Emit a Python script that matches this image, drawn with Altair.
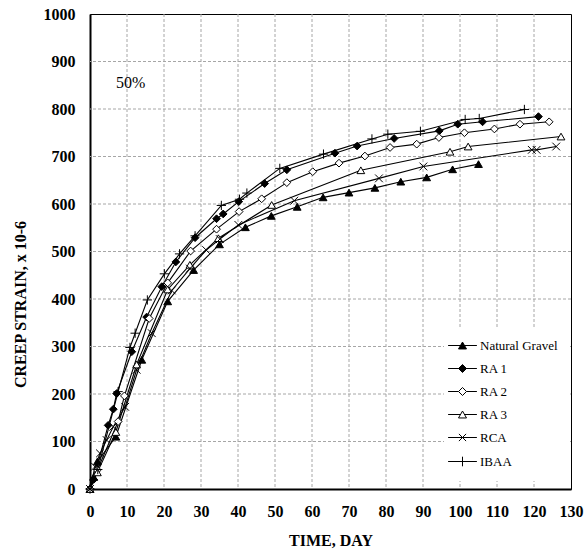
import altair as alt
import pandas as pd

series_names = ["Natural Gravel", "RA 1", "RA 2", "RA 3", "RCA", "IBAA"]

ng_day = [0, 1, 2, 7, 14, 21, 28, 35, 42, 49, 56, 63, 70, 77, 84, 91, 98, 105]
ng_strain = [0, 25, 58, 110, 272, 395, 461, 515, 551, 575, 594, 614, 624, 634, 647, 656, 673, 684]

ra1_day = [0, 1, 4.9, 6.3, 7.2, 11.3, 15.3, 19.4, 23.2, 28.4, 34.2, 36, 40.2, 47.2, 53.2, 66.2, 72.2, 82.2, 94.4, 99.4, 106.1, 121.2]
ra1_strain = [0, 20, 134, 168, 201, 289, 362, 426, 478, 529, 569, 579, 605, 643, 672, 707, 722, 738, 754, 768, 773, 784]

ra2_day = [0, 2, 7.6, 9.3, 16, 21, 27.2, 34.2, 40.3, 46.4, 53.2, 60.2, 67.3, 74.3, 81.1, 88.3, 94.3, 101.2, 109.3, 116.2, 124.1]
ra2_strain = [0, 40, 142, 196, 359, 434, 501, 547, 584, 611, 645, 668, 686, 701, 719, 726, 740, 750, 758, 768, 773]

ra3_day = [0, 2, 7, 12.6, 21, 27, 34.7, 49.1, 73.2, 97.3, 102.2, 127.3]
ra3_strain = [0, 35, 120, 262, 420, 472, 528, 598, 671, 710, 721, 742]

rca_day = [0, 1.35, 2.7, 4.5, 6.3, 9.5, 12.6, 16.7, 22.1, 27, 31.4, 35.1, 40.1, 55.2, 78.1, 90.1, 119.4, 120.7, 126]
rca_strain = [0, 47, 75, 103, 131, 173, 251, 328, 418, 464, 503, 526, 556, 607, 654, 679, 714, 714, 721]

ibaa_day = [0, 2.1, 7.6, 10.8, 12.2, 15.5, 20.1, 24.2, 28.4, 35.5, 40.4, 42.4, 51.3, 63.1, 76.2, 80.5, 89.3, 101.4, 105.2, 117.4]
ibaa_strain = [0, 41, 205, 298, 328, 398, 453, 495, 533, 597, 610, 623, 675, 705, 737, 747, 753, 778, 780, 799]

x_ticks = list(range(0, 131, 10))
y_ticks = list(range(0, 1001, 100))

note_day = [7]
note_strain = [855]
note_text = ["50%"]

all_days = [ng_day, ra1_day, ra2_day, ra3_day, rca_day, ibaa_day]
all_strain = [ng_strain, ra1_strain, ra2_strain, ra3_strain, rca_strain, ibaa_strain]

rows = []
for name, days, vals in zip(series_names, all_days, all_strain):
    for d, v in zip(days, vals):
        rows.append({"series": name, "day": d, "strain": v})
df = pd.DataFrame(rows)
note_df = pd.DataFrame({"day": note_day, "strain": note_strain, "label": note_text})
gx_df = pd.DataFrame({"day": x_ticks[1:-1]})
gy_df = pd.DataFrame({"strain": y_ticks[1:-1]})

marker_paths = ["triangle-up", "diamond", "diamond", "triangle-up",
                "M-1,-1L1,1M-1,1L1,-1", "M-1.2,0H1.2M0,-1.2V1.2"]
marker_fills = ["black", "black", "white", "white", "white", "white"]
legend_strokes = ["black"] * 6
legend_paths = [
    "M-3.6,0H3.6M0,-0.866L-1,0.866L1,0.866Z",
    "M-3.6,0H3.6M-1,0L0,-1L1,0L0,1Z",
    "M-3.6,0H-1M1,0H3.6M-1,0L0,-1L1,0L0,1Z",
    "M-3.6,0H-0.5M0.5,0H3.6M0,-0.866L-1,0.866L1,0.866Z",
    "M-3.6,0H3.6M-0.9,-0.9L0.9,0.9M-0.9,0.9L0.9,-0.9",
    "M-3.6,0H3.6M0,-1.2V1.2",
]

serif = "Liberation Serif"
grid_color = "#a6a6a6"

x_axis = alt.Axis(values=x_ticks, title="TIME, DAY", format="d",
                  labelOverlap=False, labelFlush=False, grid=False,
                  labelFont=serif, labelFontSize=16, labelFontWeight="bold",
                  titleY=51, titleBaseline="middle", labelPadding=14)
y_axis = alt.Axis(values=y_ticks, title="CREEP STRAIN, x 10-6",
                  format="d", labelOverlap=False, labelFlush=False, grid=False,
                  labelFont=serif, labelFontSize=16, labelFontWeight="bold",
                  titleX=-70, titleY=290, titleAlign="center", titleBaseline="middle",
                  labelPadding=15)
x_scale = alt.Scale(domain=[0, 130], nice=False)
y_scale = alt.Scale(domain=[0, 1000], nice=False)

x = alt.X("day:Q", scale=x_scale, axis=x_axis)
y = alt.Y("strain:Q", scale=y_scale, axis=y_axis)

grid_v = alt.Chart(gx_df).mark_rule(color=grid_color, strokeDash=[3, 2], strokeWidth=1).encode(
    x=alt.X("day:Q", scale=x_scale, axis=x_axis))
grid_h = alt.Chart(gy_df).mark_rule(color=grid_color, strokeDash=[3, 2], strokeWidth=1).encode(
    y=alt.Y("strain:Q", scale=y_scale, axis=y_axis))

lines = alt.Chart(df).mark_line(color="black", strokeWidth=1.1).encode(
    x=x, y=y, detail="series:N", order="day:Q")

points = alt.Chart(df).mark_point(stroke="black", strokeWidth=1, opacity=1, size=60).encode(
    x=x, y=y,
    shape=alt.Shape("series:N", scale=alt.Scale(domain=series_names, range=marker_paths), legend=None),
    fill=alt.Fill("series:N", scale=alt.Scale(domain=series_names, range=marker_fills), legend=None),
)

leg = alt.Legend(title=None, orient="none", legendX=354, legendY=313,
                 labelFont=serif, labelFontSize=13, labelColor="black",
                 symbolSize=64, symbolStrokeColor="black", symbolStrokeWidth=1,
                 symbolOpacity=1, rowPadding=9, labelOffset=11, padding=12,
                 fillColor="white")

legend_layer = alt.Chart(df).mark_point(opacity=0, size=64).encode(
    x=x, y=y,
    shape=alt.Shape("series:N", scale=alt.Scale(domain=series_names, range=legend_paths), legend=leg),
    fill=alt.Fill("series:N", scale=alt.Scale(domain=series_names, range=marker_fills), legend=leg),
    stroke=alt.Stroke("series:N", scale=alt.Scale(domain=series_names, range=legend_strokes), legend=leg),
)

note = alt.Chart(note_df).mark_text(align="left", baseline="middle", font=serif,
                                     fontSize=16, color="black").encode(
    x=x, y=y, text="label:N")

chart = alt.layer(grid_v, grid_h, lines, points, legend_layer, note).resolve_scale(
    shape="independent", fill="independent", stroke="independent"
).properties(
    width=481, height=475,
    autosize=alt.AutoSizeParams(type="none"),
    padding={"left": 90, "top": 14, "right": 16, "bottom": 68},
    background="white",
).configure_view(
    stroke="black", strokeWidth=1
).configure_axis(
    grid=False, labelOverlap=False, labelFlush=False,
    domainColor="black", domainWidth=2, ticks=False, tickSize=0,
    labelFont=serif, labelFontSize=16, labelFontWeight="bold", labelColor="black",
    titleFont=serif, titleFontSize=16, titleFontWeight="bold", titleColor="black",
)

chart.save("out.html", embed_options={"renderer": "svg", "actions": False})
